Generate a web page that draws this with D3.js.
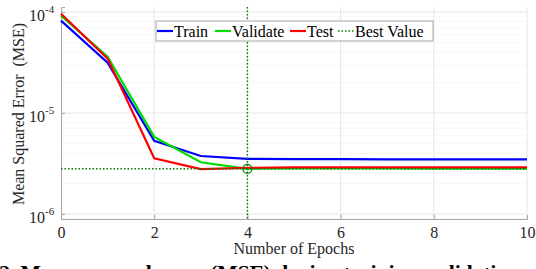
<!DOCTYPE html>
<html>
<head>
<meta charset="utf-8">
<script src="https://cdnjs.cloudflare.com/ajax/libs/d3/7.8.5/d3.min.js"></script>
<style>
  body { margin: 0; background: #fff; }
  svg { display: block; }
  svg text { font-family: "Liberation Serif", "Times New Roman", serif; }
</style>
</head>
<body>
<svg width="536" height="269"></svg>
<script>
// data
var epochs = [0, 1, 2, 3, 4, 5, 6, 7, 8, 9, 10];
var train = [8.2e-5, 3.15e-5, 5.3e-6, 3.75e-6, 3.52e-6, 3.5e-6, 3.49e-6, 3.48e-6, 3.48e-6, 3.47e-6, 3.47e-6];
var validate = [9.2e-5, 3.6e-5, 5.8e-6, 3.25e-6, 2.8e-6, 2.83e-6, 2.82e-6, 2.82e-6, 2.81e-6, 2.81e-6, 2.81e-6];
var test = [9.6e-5, 3.45e-5, 3.56e-6, 2.78e-6, 2.86e-6, 2.9e-6, 2.9e-6, 2.9e-6, 2.9e-6, 2.9e-6, 2.9e-6];
var bestEpoch = 4, bestValue = 2.8e-6;
var xTicks = [0, 2, 4, 6, 8, 10];
var yTicks = [1e-6, 1e-5, 1e-4];
var yTickExp = ["-6", "-5", "-4"];
var legendNames = ["Train", "Validate", "Test", "Best Value"];

var svg = d3.select("svg");

var plotL = 61, plotR = 527, plotT = 7, plotB = 219;

var x = d3.scaleLinear().domain([0, 10]).range([plotL, plotR]);
// 1e-4 sits at y=12 and 1e-6 at y=214, the axis runs a bit past both
var y = d3.scaleLog().domain([8.92e-7, 1.12e-4]).range([plotB, plotT]);

// minor horizontal grid
var minor = [];
[-7, -6, -5, -4].forEach(function(k) {
  for (var m = 2; m <= 9; m++) {
    var v = m * Math.pow(10, k);
    if (v > y.domain()[0] && v < y.domain()[1]) minor.push(v);
  }
});
svg.append("g").selectAll("line")
  .data(minor)
  .enter().append("line")
  .attr("x1", plotL).attr("x2", plotR)
  .attr("y1", function(d) { return y(d); })
  .attr("y2", function(d) { return y(d); })
  .attr("stroke", "#ececec")
  .attr("stroke-width", 0.8)
  .attr("stroke-dasharray", "1,1");

// major grid
svg.append("g").selectAll("line")
  .data(yTicks)
  .enter().append("line")
  .attr("x1", plotL).attr("x2", plotR)
  .attr("y1", function(d) { return y(d); })
  .attr("y2", function(d) { return y(d); })
  .attr("stroke", "#e6e6e6");
svg.append("g").selectAll("line")
  .data(xTicks.slice(1))
  .enter().append("line")
  .attr("y1", plotT).attr("y2", plotB)
  .attr("x1", function(d) { return x(d); })
  .attr("x2", function(d) { return x(d); })
  .attr("stroke", "#e6e6e6");

// axes
var xAxis = svg.append("g")
  .attr("transform", "translate(0," + plotB + ")")
  .call(d3.axisBottom(x).tickValues(xTicks).tickSize(-4).tickPadding(8).tickFormat(d3.format("d")));
xAxis.attr("font-family", null);
xAxis.selectAll("text").attr("font-size", 16).attr("fill", "#262626");

var yAxis = svg.append("g")
  .attr("transform", "translate(" + plotL + ",0)")
  .call(d3.axisLeft(y).tickValues(yTicks).tickSize(-4).tickFormat(""));

[xAxis, yAxis].forEach(function(a) {
  a.select(".domain").attr("stroke", "#a6a6a6");
  a.selectAll(".tick line").attr("stroke", "#a6a6a6");
});

// y tick labels 10^k
svg.append("g").selectAll("text")
  .data(yTicks)
  .enter().append("text")
  .attr("x", 45)
  .attr("y", function(d) { return y(d) + 9; })
  .attr("text-anchor", "end")
  .attr("font-size", 16)
  .attr("fill", "#262626")
  .text("10");
svg.append("g").selectAll("text")
  .data(yTicks)
  .enter().append("text")
  .attr("x", 45)
  .attr("y", function(d) { return y(d) + 1; })
  .attr("font-size", 11)
  .attr("fill", "#262626")
  .text(function(d, i) { return yTickExp[i]; });

// axis titles
svg.append("text")
  .attr("x", 294)
  .attr("y", 254)
  .attr("text-anchor", "middle")
  .attr("font-size", 16)
  .attr("fill", "#262626")
  .text("Number of Epochs");

svg.append("text")
  .attr("transform", "translate(24,114) rotate(-90)")
  .attr("text-anchor", "middle")
  .attr("font-size", 16)
  .attr("fill", "#262626")
  .style("white-space", "pre")
  .text("Mean Squared Error  (MSE)");

// series
var line = d3.line()
  .x(function(d, i) { return x(epochs[i]); })
  .y(function(d) { return y(d); });

var series = [
  { values: train, color: "#0000ff" },
  { values: validate, color: "#00dd00" },
  { values: test, color: "#ff0000" }
];
svg.append("g").selectAll("path")
  .data(series)
  .enter().append("path")
  .attr("d", function(d) { return line(d.values); })
  .attr("fill", "none")
  .attr("stroke", function(d) { return d.color; })
  .attr("stroke-width", 2.2);

// best value markers
var bestColor = "#008000";
svg.append("line")
  .attr("x1", x(bestEpoch)).attr("x2", x(bestEpoch))
  .attr("y1", plotT).attr("y2", plotB)
  .attr("stroke", bestColor)
  .attr("stroke-width", 1.5)
  .attr("stroke-dasharray", "1.5,2");
svg.append("line")
  .attr("x1", plotL).attr("x2", plotR)
  .attr("y1", y(bestValue)).attr("y2", y(bestValue))
  .attr("stroke", bestColor)
  .attr("stroke-width", 1.5)
  .attr("stroke-dasharray", "1.5,2");
svg.append("circle")
  .attr("cx", x(bestEpoch))
  .attr("cy", y(bestValue))
  .attr("r", 4.5)
  .attr("fill", "none")
  .attr("stroke", bestColor)
  .attr("stroke-width", 1.2);

// legend
var legend = svg.append("g");
legend.append("rect")
  .attr("x", 156).attr("y", 21)
  .attr("width", 277).attr("height", 20)
  .attr("fill", "#fff")
  .attr("stroke", "#a6a6a6");

var legendItems = [
  { name: legendNames[0], color: "#0000ff", x0: 157, dash: null },
  { name: legendNames[1], color: "#00dd00", x0: 215, dash: null },
  { name: legendNames[2], color: "#ff0000", x0: 290, dash: null },
  { name: legendNames[3], color: bestColor, x0: 338, dash: "1.5,2" }
];
var li = legend.selectAll("g.item")
  .data(legendItems)
  .enter().append("g")
  .attr("class", "item");
li.append("line")
  .attr("x1", function(d) { return d.x0; })
  .attr("x2", function(d) { return d.x0 + 16; })
  .attr("y1", 31).attr("y2", 31)
  .attr("stroke", function(d) { return d.color; })
  .attr("stroke-width", function(d) { return d.dash ? 1.5 : 2.2; })
  .attr("stroke-dasharray", function(d) { return d.dash; });
li.append("text")
  .attr("x", function(d) { return d.x0 + 17; })
  .attr("y", 36.5)
  .attr("font-size", 16)
  .attr("fill", "#000")
  .text(function(d) { return d.name; });

// caption, cut off by the bottom edge
svg.append("text")
  .attr("x", -1)
  .attr("y", 280)
  .attr("font-size", 22)
  .attr("font-weight", "bold")
  .attr("fill", "#000")
  .attr("textLength", 560)
  .attr("lengthAdjust", "spacing")
  .text("2. Mean squared error (MSE) during training, validation and");
</script>
</body>
</html>
